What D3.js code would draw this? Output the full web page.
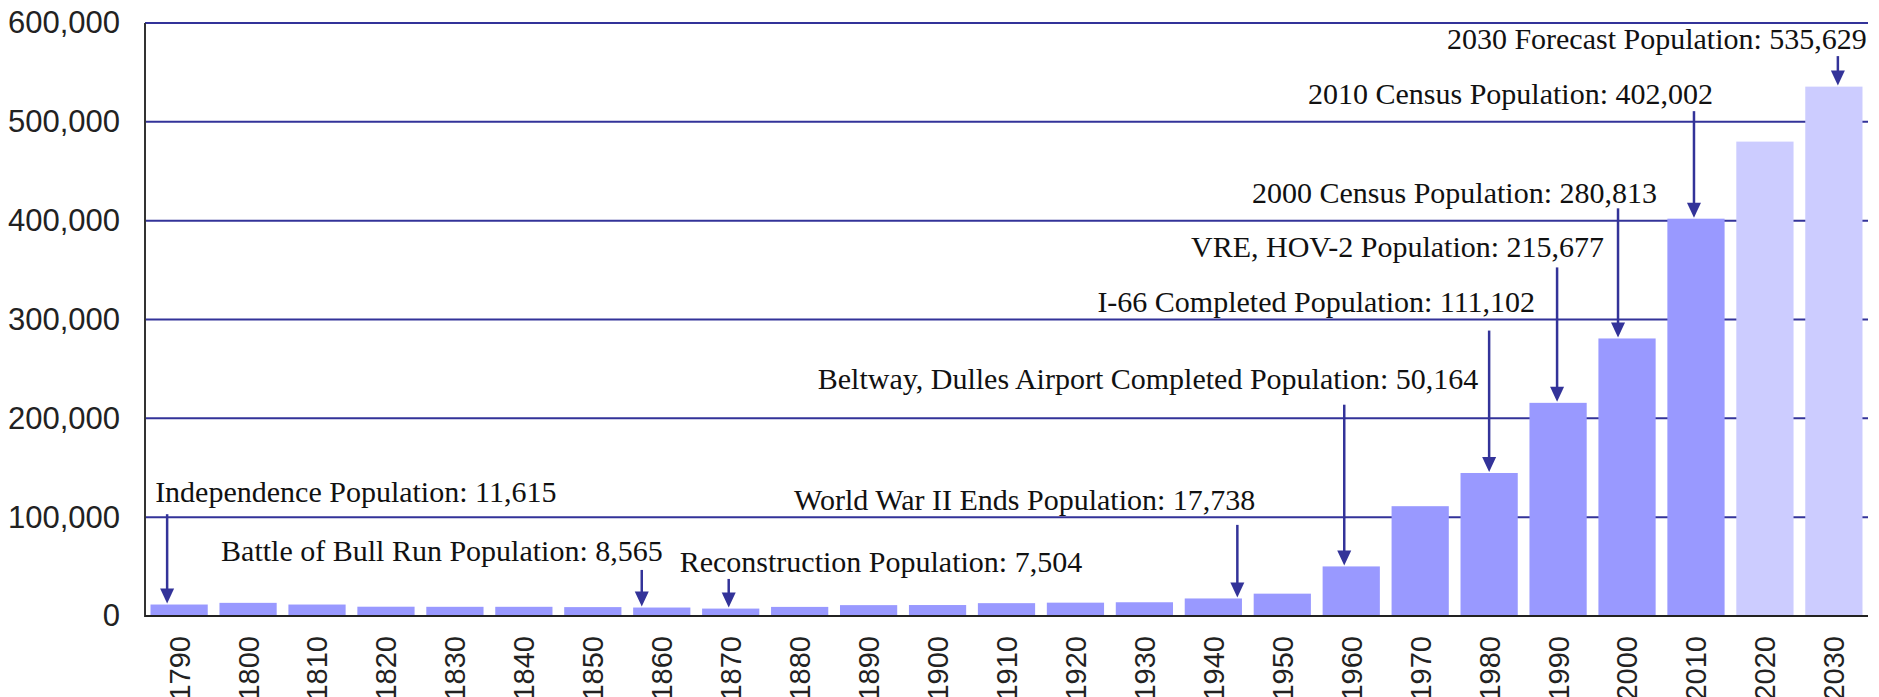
<!DOCTYPE html>
<html>
<head>
<meta charset="utf-8">
<script src="https://cdnjs.cloudflare.com/ajax/libs/d3/7.8.5/d3.min.js"></script>
<style>
body { margin: 0; background: #fff; }
</style>
</head>
<body>
<div id="chart"></div>
<script>
var years = ["1790", "1800", "1810", "1820", "1830", "1840", "1850", "1860", "1870", "1880",
    "1890", "1900", "1910", "1920", "1930", "1940", "1950", "1960", "1970", "1980",
    "1990", "2000", "2010", "2020", "2030"];
var population = [11615, 13300, 11600, 9400, 9300, 9300, 9000, 8565, 7504, 9200,
    11000, 11100, 13000, 13500, 13900, 17738, 22600, 50164, 111102, 144700,
    215677, 280813, 402002, 480000, 535629];
var forecastYears = ["2020", "2030"];
var yTicks = [0, 100000, 200000, 300000, 400000, 500000, 600000];

var noteYears = ["1790", "1860", "1870", "1940", "1960", "1980", "1990", "2000", "2010", "2030"];
var noteValues = [11615, 8565, 7504, 17738, 50164, 144700, 215677, 280813, 402002, 535629];
var noteLabels = [
    "Independence Population: 11,615",
    "Battle of Bull Run Population: 8,565",
    "Reconstruction Population: 7,504",
    "World War II Ends Population: 17,738",
    "Beltway, Dulles Airport Completed Population: 50,164",
    "I-66 Completed Population: 111,102",
    "VRE, HOV-2 Population: 215,677",
    "2000 Census Population: 280,813",
    "2010 Census Population: 402,002",
    "2030 Forecast Population: 535,629"
];

// where each label sits (population units), where its arrow starts,
// arrow shift off the bar centre, and the text anchor relative to the arrow (px)
var noteLayout = [
    {labelAt: 115500, tailAt: 103000, shift: -12, anchor: "start", dx: -12},
    {labelAt: 55700, tailAt: 46600, shift: -20, anchor: "end", dx: 21},
    {labelAt: 44600, tailAt: 37500, shift: -2, anchor: "start", dx: -49},
    {labelAt: 107400, tailAt: 92200, shift: 24, anchor: "end", dx: 18},
    {labelAt: 230000, tailAt: 213800, shift: -7, anchor: "end", dx: 134},
    {labelAt: 308000, tailAt: 288800, shift: 0, anchor: "end", dx: 46},
    {labelAt: 362800, tailAt: 352700, shift: -1, anchor: "end", dx: 47},
    {labelAt: 417500, tailAt: 412500, shift: -9, anchor: "end", dx: 39},
    {labelAt: 517900, tailAt: 510800, shift: -2, anchor: "end", dx: 19},
    {labelAt: 573600, tailAt: 566500, shift: 4, anchor: "end", dx: 29}
];

var width = 1879, height = 697;
var margin = {top: 23, right: 11, bottom: 81, left: 145};

var barColor = "#9999ff";
var forecastColor = "#ccccff";
var gridColor = "#333399";
var arrowColor = "#333399";

var svg = d3.select("#chart")
    .append("svg")
    .attr("width", width)
    .attr("height", height)
    .style("display", "block");

var x = d3.scaleBand()
    .domain(years)
    .range([margin.left, width - margin.right])
    .paddingInner(0.17)
    .paddingOuter(0.08);

var y = d3.scaleLinear()
    .domain([0, 600000])
    .range([height - margin.bottom, margin.top]);

// gridlines
svg.append("g")
    .selectAll("line")
    .data(yTicks.filter(function (d) { return d > 0; }))
    .enter()
    .append("line")
    .attr("x1", margin.left)
    .attr("x2", width - margin.right)
    .attr("y1", function (d) { return y(d); })
    .attr("y2", function (d) { return y(d); })
    .attr("stroke", gridColor)
    .attr("stroke-width", 2);

var data = years.map(function (yr, i) {
    return {year: yr, value: population[i]};
});

svg.append("g")
    .selectAll("rect")
    .data(data)
    .enter()
    .append("rect")
    .attr("x", function (d) { return x(d.year); })
    .attr("width", x.bandwidth())
    .attr("y", function (d) { return y(d.value); })
    .attr("height", function (d) { return y(0) - y(d.value); })
    .attr("fill", function (d) {
        return forecastYears.indexOf(d.year) >= 0 ? forecastColor : barColor;
    });

// axes
var yAxis = svg.append("g")
    .attr("transform", "translate(" + margin.left + ",0)")
    .call(d3.axisLeft(y).tickValues(yTicks).tickSize(0).tickPadding(25).tickFormat(d3.format(",")));
yAxis.select(".domain").remove();
yAxis.selectAll("text")
    .style("font-family", "'Liberation Sans', Arial, sans-serif")
    .style("font-size", "31px")
    .attr("fill", "#222");

var xAxis = svg.append("g")
    .attr("transform", "translate(0," + y(0) + ")")
    .call(d3.axisBottom(x).tickSize(0));
xAxis.select(".domain").remove();
xAxis.selectAll("text")
    .attr("transform", "rotate(-90)")
    .attr("x", -20)
    .attr("y", 0)
    .attr("dy", "0.36em")
    .style("text-anchor", "end")
    .style("font-family", "'Liberation Sans', Arial, sans-serif")
    .style("font-size", "29px")
    .attr("fill", "#222");

svg.append("line")
    .attr("x1", margin.left)
    .attr("x2", margin.left)
    .attr("y1", y(600000))
    .attr("y2", y(0) + 1)
    .attr("stroke", "#333")
    .attr("stroke-width", 2);
svg.append("line")
    .attr("x1", margin.left)
    .attr("x2", width - margin.right)
    .attr("y1", y(0))
    .attr("y2", y(0))
    .attr("stroke", "#222")
    .attr("stroke-width", 2);

// annotations
var notes = noteYears.map(function (yr, i) {
    var l = noteLayout[i];
    return {
        ax: x(yr) + x.bandwidth() / 2 + l.shift,
        value: noteValues[i],
        label: noteLabels[i],
        labelAt: l.labelAt,
        tailAt: l.tailAt,
        anchor: l.anchor,
        dx: l.dx
    };
});

var headLen = 15, headHalf = 7;

var note = svg.append("g")
    .selectAll("g")
    .data(notes)
    .enter()
    .append("g");

note.append("line")
    .attr("x1", function (d) { return d.ax; })
    .attr("x2", function (d) { return d.ax; })
    .attr("y1", function (d) { return y(d.tailAt); })
    .attr("y2", function (d) { return y(d.value) - headLen + 2; })
    .attr("stroke", arrowColor)
    .attr("stroke-width", 2.5);

note.append("path")
    .attr("d", function (d) {
        var tip = y(d.value) - 1;
        return "M" + (d.ax - headHalf) + "," + (tip - headLen) +
            "L" + (d.ax + headHalf) + "," + (tip - headLen) +
            "L" + d.ax + "," + tip + "Z";
    })
    .attr("fill", arrowColor);

note.append("text")
    .attr("x", function (d) { return d.ax + d.dx; })
    .attr("y", function (d) { return y(d.labelAt); })
    .style("text-anchor", function (d) { return d.anchor; })
    .style("font-family", "'Liberation Serif', 'Times New Roman', serif")
    .style("font-size", "30px")
    .attr("fill", "#111")
    .text(function (d) { return d.label; });
</script>
</body>
</html>
